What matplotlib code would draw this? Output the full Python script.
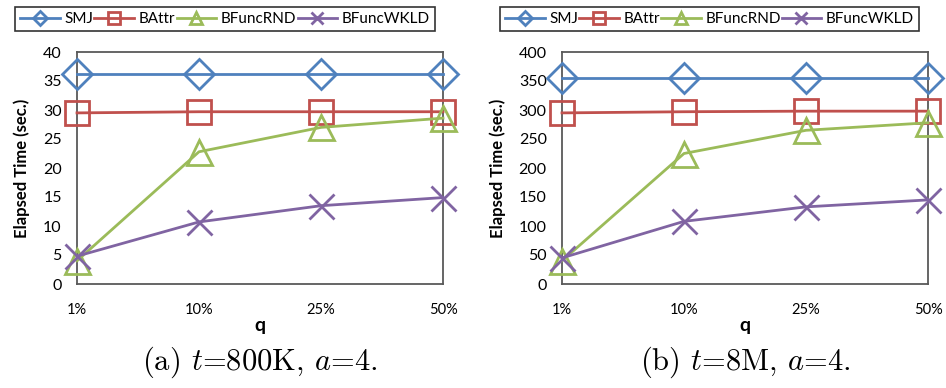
import matplotlib.pyplot as plt
import matplotlib
matplotlib.rcParams['font.family'] = ['Lato', 'DejaVu Sans']
matplotlib.rcParams['mathtext.fontset'] = 'cm'

q_labels = ['1%', '10%', '25%', '50%']
series = ['SMJ', 'BAttr', 'BFuncRND', 'BFuncWKLD']

smj_a = [36.2, 36.2, 36.2, 36.2]
battr_a = [29.5, 29.7, 29.7, 29.7]
rnd_a = [4.0, 22.8, 27.0, 28.6]
wkld_a = [4.8, 10.7, 13.5, 14.9]

smj_b = [355, 355, 355, 355]
battr_b = [295, 297, 298, 298]
rnd_b = [40, 225, 265, 278]
wkld_b = [45, 108, 133, 145]

colors = ['#4F81BD', '#C0504D', '#9BBB59', '#8064A2']
markers = ['D', 's', '^', 'x']
msizes = [15, 17, 18, 18]

fig = plt.figure(figsize=(9.46, 3.88), dpi=100)

def panel(rect, data, ymax, step, caption, leg_rect):
    ax = fig.add_axes(rect)
    x = range(len(q_labels))
    for vals, name, c, m, ms in zip(data, series, colors, markers, msizes):
        ax.plot(x, vals, color=c, lw=2, marker=m, ms=ms, mfc='none',
                mec=c, mew=2, label=name, clip_on=False, zorder=3)
    ax.set_xlim(0, len(q_labels) - 1)
    ax.set_ylim(0, ymax)
    ax.set_yticks(range(0, ymax + 1, step))
    ax.set_xticks(list(x))
    ax.set_xticklabels(q_labels)
    ax.tick_params(axis='x', length=0, pad=14, labelsize=10.5)
    ax.tick_params(axis='y', length=0, pad=11, labelsize=11.5)
    for s in ax.spines.values():
        s.set_color('#595959')
        s.set_linewidth(1.3)
    ax.set_xlabel('q', fontsize=14, fontweight='bold', labelpad=0)
    ax.set_ylabel('Elapsed Time (sec.)', fontsize=12, fontweight='bold', labelpad=9)
    h, l = ax.get_legend_handles_labels()
    lax = fig.add_axes(leg_rect)
    lax.axis('off')
    leg = lax.legend(h, l, loc='center', ncol=4, fontsize=11, frameon=True,
                     fancybox=False, edgecolor='black', markerscale=0.5,
                     handlelength=2.6, columnspacing=1.4, borderpad=0.35,
                     handletextpad=0.3, mode='expand', bbox_to_anchor=(0, 0, 1, 1))
    leg.get_frame().set_linewidth(1.2)
    fig.text(rect[0] + rect[2] / 2, 1 - 362 / 388, caption, ha='center', va='center',
             fontsize=22, family='cmr10')
    return ax

panel([77 / 946, 104 / 388, 366 / 946, 232 / 388],
      [smj_a, battr_a, rnd_a, wkld_a], 40, 5,
      r'(a) $t$=800K, $a$=4.',
      [7 / 946, 355 / 388, 436 / 946, 28 / 388])
panel([562 / 946, 104 / 388, 366 / 946, 232 / 388],
      [smj_b, battr_b, rnd_b, wkld_b], 400, 50,
      r'(b) $t$=8M, $a$=4.',
      [492 / 946, 355 / 388, 435 / 946, 28 / 388])

fig.savefig('out.png', dpi=100)
